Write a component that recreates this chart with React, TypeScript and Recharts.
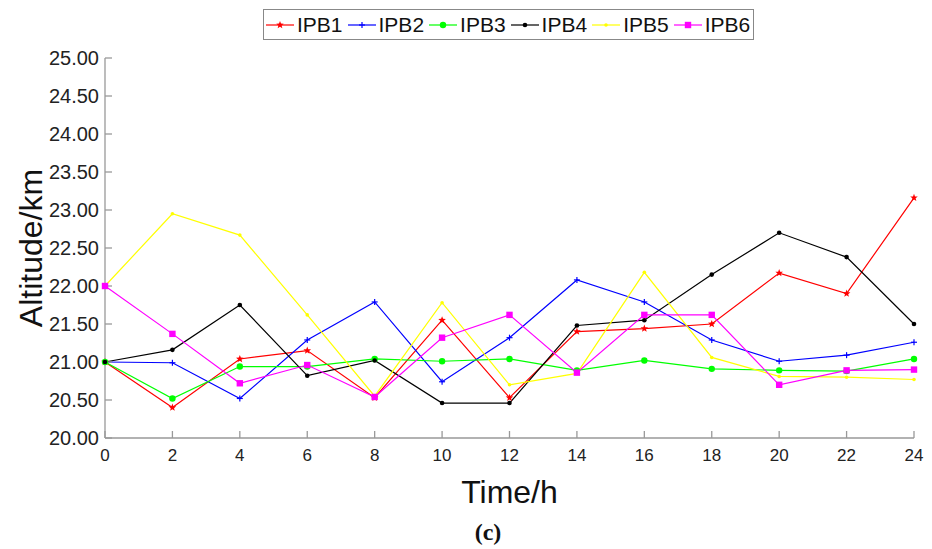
import React from 'react';
import { LineChart, Line, XAxis, YAxis, Legend } from 'recharts';

const hours = [0, 2, 4, 6, 8, 10, 12, 14, 16, 18, 20, 22, 24];
const ipb1 = [21.0, 20.4, 21.04, 21.15, 20.53, 21.55, 20.53, 21.4, 21.44, 21.5, 22.17, 21.9, 23.16];
const ipb2 = [21.0, 20.99, 20.52, 21.29, 21.79, 20.74, 21.32, 22.08, 21.79, 21.29, 21.01, 21.09, 21.26];
const ipb3 = [21.0, 20.52, 20.94, 20.94, 21.04, 21.01, 21.04, 20.89, 21.02, 20.91, 20.89, 20.88, 21.04];
const ipb4 = [21.0, 21.16, 21.75, 20.82, 21.02, 20.46, 20.46, 21.48, 21.55, 22.15, 22.7, 22.38, 21.5];
const ipb5 = [22.0, 22.95, 22.67, 21.62, 20.55, 21.78, 20.7, 20.85, 22.18, 21.06, 20.81, 20.8, 20.77];
const ipb6 = [22.0, 21.37, 20.72, 20.96, 20.54, 21.32, 21.62, 20.86, 21.62, 21.62, 20.7, 20.89, 20.9];
const yTicks = [20, 20.5, 21, 21.5, 22, 22.5, 23, 23.5, 24, 24.5, 25];

const series = [
    { key: 'IPB1', values: ipb1, color: '#ff0000', shape: 'star' },
    { key: 'IPB2', values: ipb2, color: '#0000ff', shape: 'plus' },
    { key: 'IPB3', values: ipb3, color: '#00ff00', shape: 'circle' },
    { key: 'IPB4', values: ipb4, color: '#000000', shape: 'dot' },
    { key: 'IPB5', values: ipb5, color: '#ffff00', shape: 'small' },
    { key: 'IPB6', values: ipb6, color: '#ff00ff', shape: 'square' },
];

const data = hours.map((h, i) => {
    const row: Record<string, number> = { hour: h };
    series.forEach((s) => { row[s.key] = s.values[i]; });
    return row;
});

const FONT = '"Liberation Sans", Arial, sans-serif';
const AXIS = '#999999';

function marker(shape: string, cx: number, cy: number, color: string, key?: string) {
    switch (shape) {
        case 'star': {
            const pts: string[] = [];
            for (let k = 0; k < 10; k++) {
                const r = k % 2 === 0 ? 4 : 1.7;
                const a = -Math.PI / 2 + (k * Math.PI) / 5;
                pts.push(`${cx + r * Math.cos(a)},${cy + r * Math.sin(a)}`);
            }
            return <polygon key={key} points={pts.join(' ')} fill={color} />;
        }
        case 'plus':
            return (
                <g key={key} stroke={color} strokeWidth={1.2}>
                    <line x1={cx - 3} x2={cx + 3} y1={cy} y2={cy} />
                    <line x1={cx} x2={cx} y1={cy - 3} y2={cy + 3} />
                </g>
            );
        case 'circle':
            return <circle key={key} cx={cx} cy={cy} r={3.2} fill={color} />;
        case 'dot':
            return <circle key={key} cx={cx} cy={cy} r={2.3} fill={color} />;
        case 'small':
            return <circle key={key} cx={cx} cy={cy} r={1.8} fill={color} />;
        default:
            return <rect key={key} x={cx - 3.2} y={cy - 3.2} width={6.4} height={6.4} fill={color} />;
    }
}

const renderLegend = () => (
    <div
        style={{
            border: '1px solid #888',
            height: 31,
            boxSizing: 'border-box',
            display: 'flex',
            alignItems: 'center',
            paddingLeft: 2,
            background: '#fff',
        }}
    >
        {series.map((s) => (
            <div key={s.key} style={{ display: 'flex', alignItems: 'center', marginRight: 5 }}>
                <svg width={28} height={12}>
                    <line x1={0} x2={28} y1={6} y2={6} stroke={s.color} strokeWidth={1.2} />
                    {marker(s.shape, 14, 6, s.color)}
                </svg>
                <span style={{ marginLeft: 3, fontSize: 21, fontFamily: FONT, color: '#111', lineHeight: '24px' }}>{s.key}</span>
            </div>
        ))}
    </div>
);

export default function App() {
    return (
        <div style={{ position: 'absolute', left: 0, top: 0, width: 932, height: 549, background: '#fff' }}>
            <LineChart width={932} height={549} data={data} margin={{ top: 58, right: 18, bottom: 81, left: 5 }}>
                <XAxis
                    dataKey="hour"
                    type="number"
                    domain={[0, 24]}
                    ticks={hours}
                    stroke={AXIS}
                    strokeWidth={1.3}
                    tickSize={-7}
                    tickMargin={18}
                    height={30}
                    tick={{ fill: '#222', fontSize: 17, fontFamily: FONT }}
                    label={{ value: 'Time/h', position: 'bottom', offset: 12, fill: '#111', fontSize: 32, fontFamily: FONT }}
                />
                <XAxis
                    xAxisId="top"
                    orientation="top"
                    dataKey="hour"
                    type="number"
                    domain={[0, 24]}
                    ticks={hours}
                    stroke={AXIS}
                    strokeWidth={1.3}
                    tickSize={-7}
                    height={0}
                    tickFormatter={() => ''}
                />
                <YAxis
                    type="number"
                    domain={[20, 25]}
                    ticks={yTicks}
                    stroke={AXIS}
                    strokeWidth={1.3}
                    width={100}
                    tickSize={-7}
                    tickMargin={13}
                    tickFormatter={(v: number) => v.toFixed(2)}
                    tick={{ fill: '#222', fontSize: 20, fontFamily: FONT }}
                    label={{
                        value: 'Altitude/km',
                        angle: -90,
                        position: 'insideLeft',
                        offset: 26,
                        fill: '#111',
                        fontSize: 32,
                        fontFamily: FONT,
                        style: { textAnchor: 'middle' },
                    }}
                />
                <YAxis
                    yAxisId="right"
                    orientation="right"
                    type="number"
                    domain={[20, 25]}
                    ticks={yTicks}
                    stroke={AXIS}
                    strokeWidth={1.3}
                    width={0}
                    tickSize={-7}
                    tickFormatter={() => ''}
                />
                <Legend
                    verticalAlign="middle"
                    align="center"
                    content={renderLegend}
                    wrapperStyle={{ top: 9, left: 263, width: 491, height: 31 }}
                />
                {series.map((s) => (
                    <Line
                        key={s.key}
                        dataKey={s.key}
                        stroke={s.color}
                        strokeWidth={1.2}
                        isAnimationActive={false}
                        activeDot={false}
                        dot={(p: any) => marker(s.shape, p.cx, p.cy, s.color, `${s.key}-${p.index}`)}
                    />
                ))}
            </LineChart>
            <div
                style={{
                    position: 'absolute',
                    left: 0,
                    width: 976,
                    top: 520,
                    textAlign: 'center',
                    fontFamily: '"Liberation Serif", "Times New Roman", serif',
                    fontWeight: 'bold',
                    fontSize: 24,
                    lineHeight: '24px',
                    color: '#111',
                }}
            >
                (c)
            </div>
        </div>
    );
}
